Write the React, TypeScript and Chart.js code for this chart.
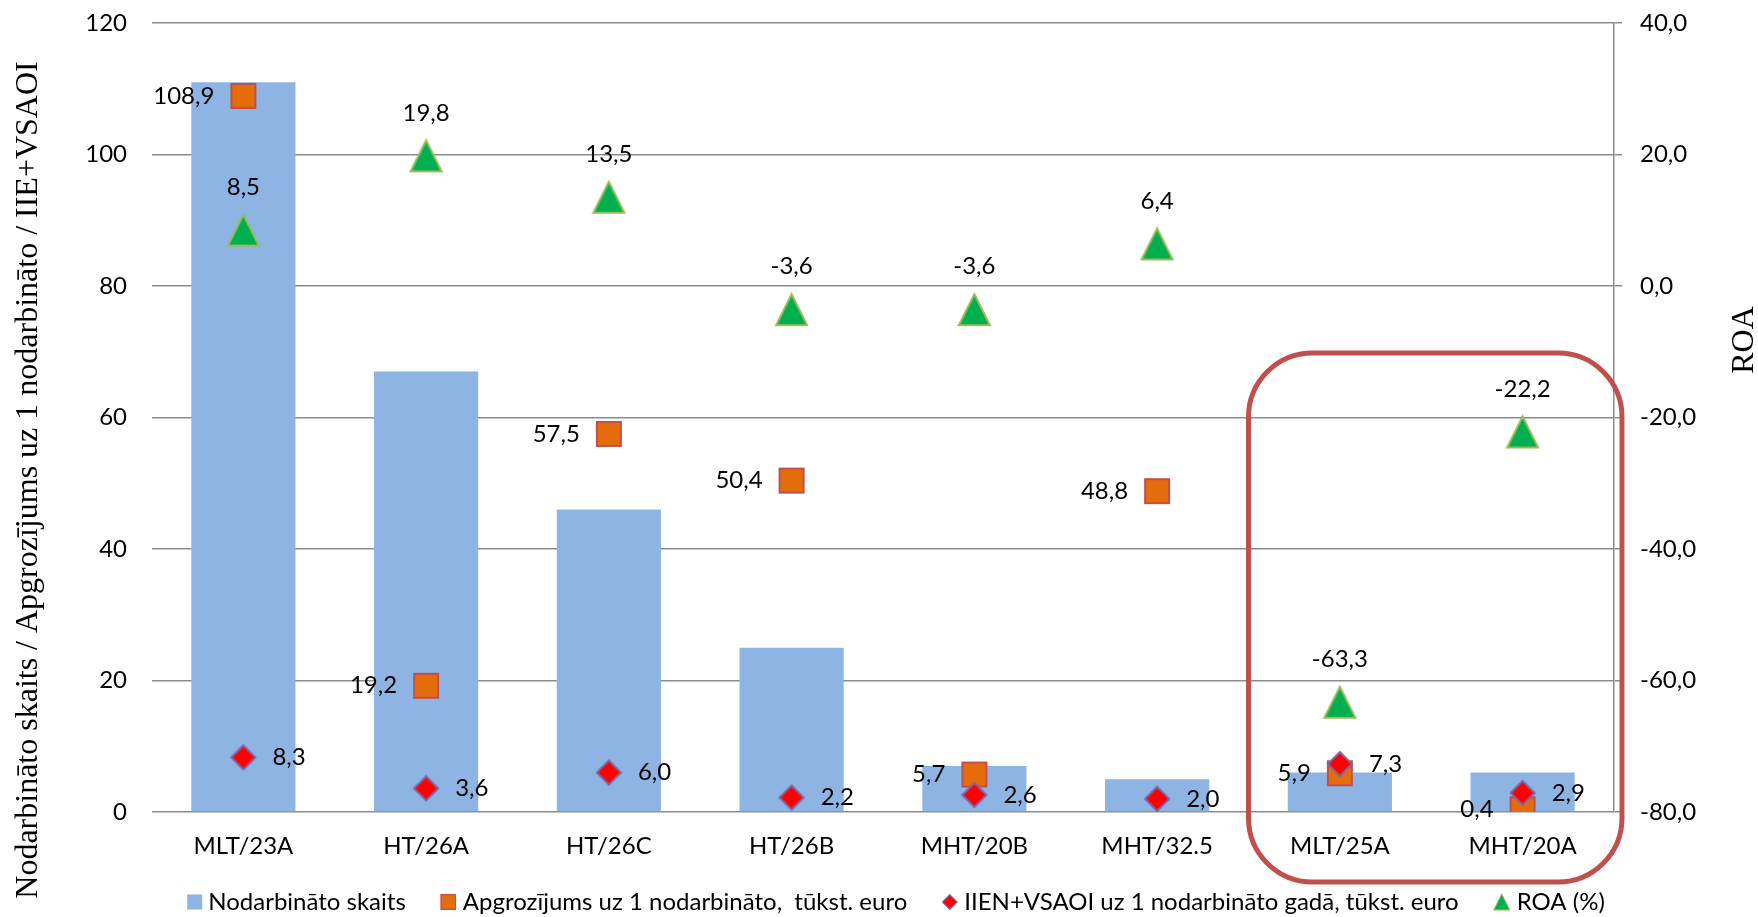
import { useEffect, useRef } from "react";
import { Chart, registerables } from "chart.js";

Chart.register(...registerables);

// Categories (units)
const categories = ["MLT/23A", "HT/26A", "HT/26C", "HT/26B", "MHT/20B", "MHT/32.5", "MLT/25A", "MHT/20A"];

// Series values
const employees = [111, 67, 46, 25, 7, 5, 6, 6];
const turnoverPerEmployee = [108.9, 19.2, 57.5, 50.4, 5.7, 48.8, 5.9, 0.4];
const taxesPerEmployee = [8.3, 3.6, 6.0, 2.2, 2.6, 2.0, 7.3, 2.9];
const roa = [8.5, 19.8, 13.5, -3.6, -3.6, 6.4, -63.3, -22.2];

// Axis ticks
const leftTicks = [0, 20, 40, 60, 80, 100, 120];
const rightTicks = [-80, -60, -40, -20, 0, 20, 40];

const FONT = "Lato, 'Noto Sans', sans-serif";
const SERIF = "'Liberation Serif', 'DejaVu Serif', serif";
const GRID = "#8c8c8c";

const fmt = (v: number) => v.toFixed(1).replace(".", ",");

function squareMarker(side: number, fill: string, stroke: string, lw: number) {
  const c = document.createElement("canvas");
  const s = side + lw * 2;
  c.width = s;
  c.height = s;
  const ctx = c.getContext("2d")!;
  ctx.fillStyle = fill;
  ctx.fillRect(lw, lw, side, side);
  ctx.strokeStyle = stroke;
  ctx.lineWidth = lw;
  ctx.strokeRect(lw, lw, side, side);
  return c;
}

function diamondMarker(half: number, fill: string, stroke: string, lw: number) {
  const c = document.createElement("canvas");
  const s = half * 2 + lw * 2;
  c.width = s;
  c.height = s;
  const ctx = c.getContext("2d")!;
  const m = s / 2;
  ctx.beginPath();
  ctx.moveTo(m, m - half);
  ctx.lineTo(m + half, m);
  ctx.lineTo(m, m + half);
  ctx.lineTo(m - half, m);
  ctx.closePath();
  ctx.fillStyle = fill;
  ctx.fill();
  ctx.strokeStyle = stroke;
  ctx.lineWidth = lw;
  ctx.stroke();
  return c;
}

function triangleMarker(w: number, h: number, fill: string, stroke: string, lw: number) {
  const c = document.createElement("canvas");
  c.width = w + lw * 2;
  c.height = h + lw * 2;
  const ctx = c.getContext("2d")!;
  ctx.beginPath();
  ctx.moveTo(lw + w / 2, lw);
  ctx.lineTo(lw + w, lw + h);
  ctx.lineTo(lw, lw + h);
  ctx.closePath();
  ctx.fillStyle = fill;
  ctx.fill();
  ctx.strokeStyle = stroke;
  ctx.lineWidth = lw;
  ctx.stroke();
  return c;
}

// Value labels next to the markers
const valueLabels = {
  id: "valueLabels",
  afterDatasetsDraw(chart: any) {
    const ctx = chart.ctx;
    ctx.save();
    ctx.font = `24px ${FONT}`;
    ctx.fillStyle = "#000";
    chart.data.datasets.forEach((ds: any, i: number) => {
      if (!ds.valueLabel) return;
      const meta = chart.getDatasetMeta(i);
      meta.data.forEach((pt: any, j: number) => {
        const text = fmt(ds.data[j]);
        if (ds.valueLabel === "left") {
          ctx.textAlign = "right";
          ctx.textBaseline = "middle";
          ctx.fillText(text, pt.x - 29, pt.y);
        } else if (ds.valueLabel === "right") {
          ctx.textAlign = "left";
          ctx.textBaseline = "middle";
          ctx.fillText(text, pt.x + 29, pt.y);
        } else {
          ctx.textAlign = "center";
          ctx.textBaseline = "middle";
          ctx.fillText(text, pt.x, pt.y - 43);
        }
      });
    });
    ctx.restore();
  },
};

// Axis titles, legend and the highlight frame
const decorations = {
  id: "decorations",
  afterDraw(chart: any) {
    const ctx = chart.ctx;
    const area = chart.chartArea;
    const x = chart.scales.x;
    const y = chart.scales.y;

    // axis titles
    ctx.save();
    ctx.fillStyle = "#000";
    ctx.font = `32px ${SERIF}`;
    ctx.textAlign = "center";
    ctx.textBaseline = "alphabetic";
    ctx.translate(37, 480);
    ctx.rotate(-Math.PI / 2);
    ctx.fillText("Nodarbināto skaits / Apgrozījums uz 1 nodarbināto / IIE+VSAOI", 0, 0);
    ctx.restore();

    ctx.save();
    ctx.fillStyle = "#000";
    ctx.font = `32px ${SERIF}`;
    ctx.textAlign = "center";
    ctx.textBaseline = "alphabetic";
    ctx.translate(1753, 340);
    ctx.rotate(-Math.PI / 2);
    ctx.fillText("ROA", 0, 0);
    ctx.restore();

    // legend
    ctx.save();
    ctx.font = `24px ${FONT}`;
    ctx.textBaseline = "middle";
    ctx.textAlign = "left";
    const items = chart.data.datasets.map((ds: any) => {
      const size = ds.legendSize as number;
      const tw = ctx.measureText(ds.label).width;
      return { ds, size, tw };
    });
    const gapMarker = 6;
    const gapItem = 34;
    let total = 0;
    items.forEach((it: any, k: number) => {
      total += it.size + gapMarker + it.tw + (k < items.length - 1 ? gapItem : 0);
    });
    let cx = 896 - total / 2;
    const ly = 902;
    items.forEach((it: any) => {
      const { ds, size, tw } = it;
      if (ds.type === "bar") {
        ctx.fillStyle = ds.backgroundColor;
        ctx.fillRect(cx, ly - size / 2, size, size);
      } else {
        const img = ds.pointStyle as HTMLCanvasElement;
        const h = (size * img.height) / img.width;
        ctx.drawImage(img, cx, ly - h / 2, size, h);
      }
      cx += size + gapMarker;
      ctx.fillStyle = "#000";
      ctx.fillText(ds.label, cx, ly);
      cx += tw + gapItem;
    });
    ctx.restore();

    // rounded highlight frame around the last two units
    const left = (x.getPixelForTick(5) + x.getPixelForTick(6)) / 2;
    const right = area.right + 8;
    const top = y.getPixelForValue(69.8);
    const bottom = area.bottom + 70;
    const r = 64;
    ctx.save();
    ctx.strokeStyle = "#C0504D";
    ctx.lineWidth = 5;
    ctx.beginPath();
    ctx.moveTo(left + r, top);
    ctx.lineTo(right - r, top);
    ctx.arcTo(right, top, right, top + r, r);
    ctx.lineTo(right, bottom - r);
    ctx.arcTo(right, bottom, right - r, bottom, r);
    ctx.lineTo(left + r, bottom);
    ctx.arcTo(left, bottom, left, bottom - r, r);
    ctx.lineTo(left, top + r);
    ctx.arcTo(left, top, left + r, top, r);
    ctx.closePath();
    ctx.stroke();
    ctx.restore();
  },
};

export default function App() {
  const canvasRef = useRef<HTMLCanvasElement | null>(null);

  useEffect(() => {
    const canvas = canvasRef.current;
    if (!canvas) return;

    const squareImg = squareMarker(24, "#E46C0A", "#C0504D", 2);
    const diamondImg = diamondMarker(12, "#FF0000", "#8064A2", 2);
    const triangleImg = triangleMarker(31, 31, "#00B050", "#9BBB59", 2);

    const chart = new Chart(canvas, {
      type: "bar",
      data: {
        labels: categories,
        datasets: [
          {
            type: "bar",
            label: "Nodarbināto skaits",
            data: employees,
            backgroundColor: "#8EB4E3",
            yAxisID: "y",
            categoryPercentage: 1,
            barPercentage: 0.57,
            order: 4,
            legendSize: 15,
          } as any,
          {
            type: "line",
            label: "Apgrozījums uz 1 nodarbināto,  tūkst. euro",
            data: turnoverPerEmployee,
            showLine: false,
            pointStyle: squareImg,
            yAxisID: "y",
            order: 3,
            valueLabel: "left",
            legendSize: 17,
          } as any,
          {
            type: "line",
            label: "IIEN+VSAOI uz 1 nodarbināto gadā, tūkst. euro",
            data: taxesPerEmployee,
            showLine: false,
            pointStyle: diamondImg,
            yAxisID: "y",
            order: 1,
            valueLabel: "right",
            legendSize: 17,
          } as any,
          {
            type: "line",
            label: "ROA (%)",
            data: roa,
            showLine: false,
            pointStyle: triangleImg,
            yAxisID: "y1",
            order: 2,
            valueLabel: "above",
            legendSize: 18,
          } as any,
        ],
      },
      options: {
        responsive: false,
        animation: false,
        devicePixelRatio: 1,
        layout: { padding: { top: 23, left: 0, right: 0, bottom: 0 } },
        plugins: {
          legend: { display: false },
          tooltip: { enabled: false },
        },
        scales: {
          x: {
            type: "category",
            grid: { display: false, drawTicks: false },
            border: { display: false },
            ticks: { font: { family: FONT, size: 24 }, color: "#000", padding: 20 },
            afterFit: (s: any) => {
              s.height = 105;
            },
          },
          y: {
            position: "left",
            min: leftTicks[0],
            max: leftTicks[leftTicks.length - 1],
            ticks: {
              stepSize: leftTicks[1] - leftTicks[0],
              font: { family: FONT, size: 24 },
              color: "#000",
              padding: 25,
            },
            grid: { color: GRID, lineWidth: 1.5, drawTicks: false },
            border: { display: false },
            afterFit: (s: any) => {
              s.width = 152;
              s.paddingTop = 0;
              s.paddingBottom = 0;
            },
          },
          y1: {
            position: "right",
            min: rightTicks[0],
            max: rightTicks[rightTicks.length - 1],
            ticks: {
              stepSize: rightTicks[1] - rightTicks[0],
              font: { family: FONT, size: 24 },
              color: "#000",
              padding: 18,
              callback: (v: any) => fmt(Number(v)),
            },
            grid: { color: GRID, lineWidth: 1.5, drawOnChartArea: false, drawTicks: true, tickLength: 8 },
            border: { display: true, color: GRID, width: 1.5 },
            afterFit: (s: any) => {
              s.width = 144;
              s.paddingTop = 0;
              s.paddingBottom = 0;
            },
          },
        },
      },
      plugins: [valueLabels, decorations],
    } as any);

    return () => chart.destroy();
  }, []);

  return (
    <div style={{ position: "absolute", left: 0, top: 0, width: 1758, height: 917, background: "#fff" }}>
      <canvas ref={canvasRef} width={1758} height={917} style={{ display: "block" }} />
    </div>
  );
}
